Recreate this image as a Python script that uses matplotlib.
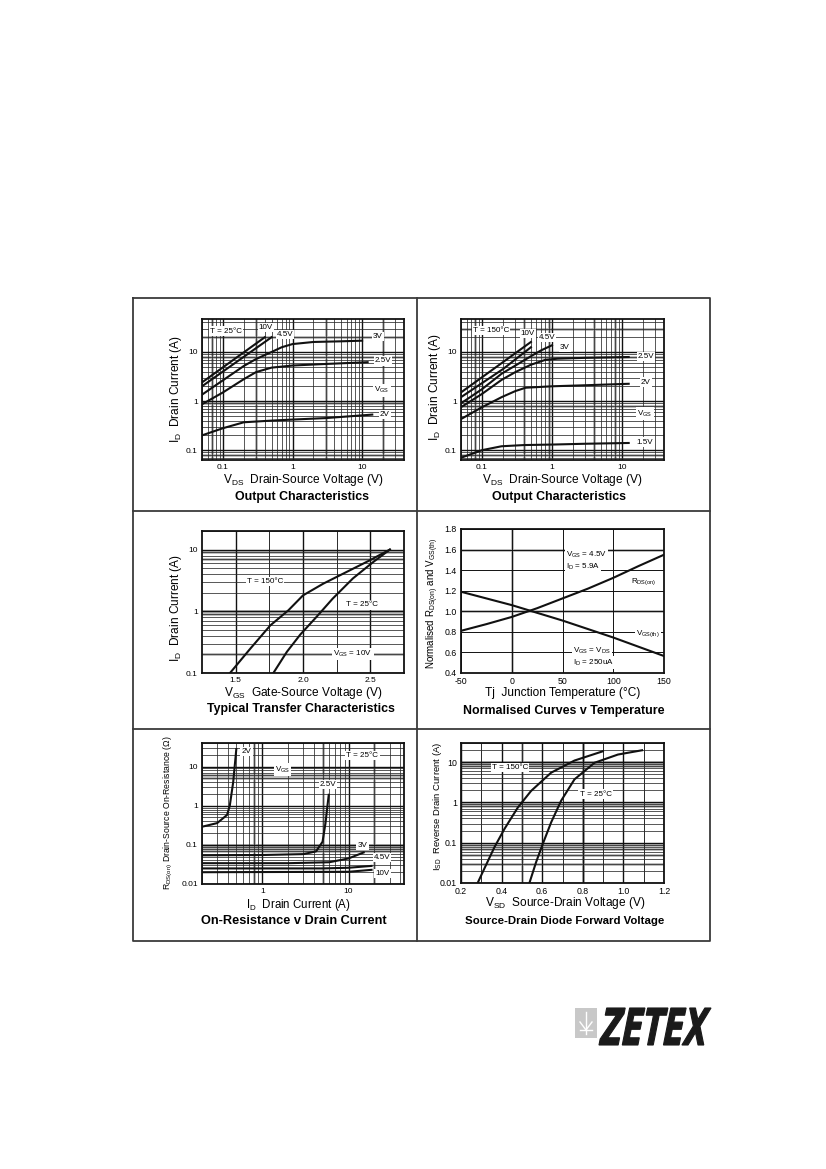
import matplotlib
matplotlib.use("Agg")
import matplotlib.pyplot as plt
from matplotlib.patches import Rectangle, PathPatch
from matplotlib.textpath import TextPath
from matplotlib.font_manager import FontProperties
from matplotlib.transforms import Affine2D
from matplotlib.ticker import LogLocator, NullFormatter, FixedLocator

plt.rcParams['font.family'] = ['Liberation Sans', 'DejaVu Sans']
plt.rcParams['mathtext.default'] = 'regular'

W, H = 826, 1169

# ---- output characteristics, T = 25C ----
oc25_10v_vds = [0.05, 0.4]
oc25_10v_id = [2.4, 20]
oc25_45v_vds = [0.05, 0.5]
oc25_45v_id = [2.0, 20]
oc25_3v_vds = [0.05, 0.1, 0.2, 0.3, 0.5, 0.7, 1, 2, 5, 10]
oc25_3v_id = [1.35, 2.65, 5.2, 7.2, 10, 12.5, 14.5, 16, 16.5, 17]
oc25_25v_vds = [0.05, 0.1, 0.2, 0.3, 0.5, 1, 3, 12]
oc25_25v_id = [0.86, 1.5, 2.8, 3.9, 4.8, 5.3, 5.7, 6.2]
oc25_2v_vds = [0.05, 0.1, 0.2, 0.5, 1, 3, 14]
oc25_2v_id = [0.2, 0.28, 0.37, 0.4, 0.42, 0.45, 0.53]

# ---- output characteristics, T = 150C ----
oc150_10v_vds = [0.05, 0.5]
oc150_10v_id = [1.5, 16]
oc150_45v_vds = [0.05, 0.2, 0.5]
oc150_45v_id = [1.2, 4.5, 12.5]
oc150_3v_vds = [0.05, 0.1, 0.19, 0.3, 0.5, 0.7, 1]
oc150_3v_id = [0.9, 1.75, 3.6, 5.3, 8.2, 10.8, 13.7]
oc150_25v_vds = [0.05, 0.1, 0.19, 0.3, 0.5, 0.8, 1.2, 3, 12.5]
oc150_25v_id = [0.75, 1.4, 2.7, 3.9, 5.5, 6.9, 7.3, 7.6, 7.9]
oc150_2v_vds = [0.05, 0.1, 0.19, 0.3, 0.42, 1, 3, 12.5]
oc150_2v_id = [0.43, 0.75, 1.2, 1.6, 1.87, 2.0, 2.1, 2.25]
oc150_15v_vds = [0.05, 0.1, 0.19, 0.4, 1, 3, 12.5]
oc150_15v_id = [0.07, 0.1, 0.12, 0.127, 0.13, 0.135, 0.14]

# ---- transfer characteristics ----
tr150_vgs = [1.458, 1.61, 1.757, 1.892, 2.0, 2.15, 2.32, 2.49, 2.645]
tr150_id = [0.1, 0.25, 0.59, 1.04, 1.81, 2.8, 4.3, 6.6, 10.0]
tr25_vgs = [1.78, 1.88, 1.98, 2.1, 2.22, 2.37, 2.52, 2.645]
tr25_id = [0.1, 0.22, 0.42, 0.81, 1.6, 3.4, 6.25, 10.0]

# ---- normalised curves v temperature ----
temp_c = [-50, -25, 0, 25, 50, 75, 100, 125, 150]
rdson_norm = [0.81, 0.875, 0.945, 1.03, 1.125, 1.22, 1.325, 1.44, 1.55]
temp_vth = [-50, 0, 50, 100, 150]
vth_norm = [1.19, 1.06, 0.91, 0.745, 0.565]

# ---- on-resistance v drain current ----
ron_2v_id = [0.2, 0.3, 0.39, 0.42, 0.46, 0.5]
ron_2v_r = [0.29, 0.36, 0.58, 1.0, 4.0, 28]
ron_25v_id = [0.2, 1, 3, 4.2, 5.0, 5.4, 5.7, 5.9]
ron_25v_r = [0.054, 0.055, 0.058, 0.068, 0.12, 0.35, 1.0, 1.9]
ron_3v_id = [0.2, 2, 6, 10, 15]
ron_3v_r = [0.034, 0.034, 0.036, 0.045, 0.064]
ron_45v_id = [0.2, 5, 10, 18.5]
ron_45v_r = [0.025, 0.025, 0.026, 0.029]
ron_10v_id = [0.2, 10, 18.5]
ron_10v_r = [0.02, 0.0205, 0.023]

# ---- source-drain diode ----
sd150_vsd = [0.282, 0.315, 0.365, 0.414, 0.48, 0.545, 0.644, 0.759, 0.899]
sd150_isd = [0.01, 0.0228, 0.078, 0.22, 0.75, 1.93, 5.5, 11, 18.7]
sd25_vsd = [0.537, 0.570, 0.603, 0.644, 0.693, 0.759, 0.858, 0.973, 1.092]
sd25_isd = [0.01, 0.033, 0.094, 0.32, 1.1, 3.75, 9.7, 15.5, 19.8]

fig = plt.figure(figsize=(W / 100, H / 100), dpi=100)
fig.patch.set_facecolor('white')

# frame in pixel coordinates
bg = fig.add_axes([0, 0, 1, 1])
bg.set_xlim(0, W)
bg.set_ylim(H, 0)
bg.axis('off')
fc = '#3a3a3a'
bg.plot([133, 710, 710, 133, 133], [298, 298, 941, 941, 298], color=fc, lw=1.3)
bg.plot([417, 417], [298, 941], color=fc, lw=1.3)
bg.plot([133, 710], [511, 511], color=fc, lw=1.3)
bg.plot([133, 710], [729, 729], color=fc, lw=1.3)

# logo
bg.add_patch(Rectangle((575, 1008), 22, 30, color='#c8c8c8', lw=0))
bg.plot([586, 586], [1012, 1034], color='white', lw=1.0)
bg.plot([580, 586, 592], [1022, 1030, 1022], color='white', lw=1.0)
bg.plot([580, 592], [1030, 1030], color='white', lw=1.0)
tp = TextPath((0, 0), "ZETEX", size=1,
              prop=FontProperties(family='DejaVu Sans', weight='bold', style='italic'))
ext = tp.get_extents()
tr = (Affine2D().translate(-ext.x0, -ext.y0).skew_deg(8, 0)
      .scale(112 / (ext.width + ext.height * 0.14), -37 / ext.height)
      .translate(599, 1045))
bg.add_patch(PathPatch(tr.transform_path(tp), facecolor='#1a1a1a',
                       edgecolor='#1a1a1a', lw=0.8))


def pix_axes(x0, y0, x1, y1):
    ax = fig.add_axes([x0 / W, 1 - y1 / H, (x1 - x0) / W, (y1 - y0) / H])
    for s in ax.spines.values():
        s.set_linewidth(1.3)
        s.set_color('#111111')
    ax.tick_params(which='both', length=0, labelsize=6, pad=3)
    return ax


def log_grid(ax, which_axes):
    for a in which_axes:
        axis = ax.xaxis if a == 'x' else ax.yaxis
        axis.set_minor_locator(LogLocator(base=10, subs=range(2, 10)))
        axis.set_minor_formatter(NullFormatter())
    ax.grid(which='major', color='#111111', lw=1.0)
    ax.grid(which='minor', color='#2a2a2a', lw=0.55)
    ax.set_axisbelow(True)


def ptext(x, y, s, size=5.8, ha='center', box=True, **kw):
    bb = dict(facecolor='white', edgecolor='none', pad=0.8) if box else None
    fig.text(x / W, 1 - y / H, s, fontsize=size, ha=ha, va='center', bbox=bb,
             zorder=5, **kw)


def gray_lines(ax, hs=(), vs=()):
    for h in hs:
        ax.axhline(h, color='#a8a8a8', lw=1.8, zorder=0.5)
    for v in vs:
        ax.axvline(v, color='#a8a8a8', lw=1.8, zorder=0.5)


lw_c = 1.5
ck = '#111111'

# ---------- panel 1 ----------
ax1 = pix_axes(202, 319, 404, 460)
ax1.set_xscale('log')
ax1.set_yscale('log')
ax1.set_xlim(0.05, 40)
ax1.set_ylim(0.063, 47)
ax1.set_xticks([0.1, 1, 10], ['0.1', '1', '10'])
ax1.set_yticks([0.1, 1, 10], ['0.1', '1', '10'])
log_grid(ax1, 'xy')
gray_lines(ax1, hs=[20, 8, 0.9, 0.08], vs=[0.07, 0.3, 3, 20])
for xv, yv in [(oc25_10v_vds, oc25_10v_id), (oc25_45v_vds, oc25_45v_id),
               (oc25_3v_vds, oc25_3v_id), (oc25_25v_vds, oc25_25v_id),
               (oc25_2v_vds, oc25_2v_id)]:
    ax1.plot(xv, yv, color=ck, lw=lw_c)
ptext(226, 331, 'T = 25°C')
ptext(266, 327.5, '10V')
ptext(285, 334.3, '4.5V')
ptext(378, 336.3, '3V')
ptext(383, 361, '2.5V')
ptext(382, 390.3, '$V_{GS}$')
ptext(385, 414.3, '2V')
ptext(176, 389, '$I_D$  Drain Current (A)', size=8.6, box=False, rotation=90)
ptext(303, 480, '$V_{DS}$  Drain-Source Voltage (V)', size=8.6, box=False)
ptext(302, 497, 'Output Characteristics', size=8.9, box=False, weight='bold')

# ---------- panel 2 ----------
ax2 = pix_axes(461, 319, 664, 460)
ax2.set_xscale('log')
ax2.set_yscale('log')
ax2.set_xlim(0.05, 40)
ax2.set_ylim(0.063, 47)
ax2.set_xticks([0.1, 1, 10], ['0.1', '1', '10'])
ax2.set_yticks([0.1, 1, 10], ['0.1', '1', '10'])
log_grid(ax2, 'xy')
gray_lines(ax2, hs=[30, 8, 0.8, 0.08], vs=[0.08, 0.4, 0.9, 4, 8])
for xv, yv in [(oc150_10v_vds, oc150_10v_id), (oc150_45v_vds, oc150_45v_id),
               (oc150_3v_vds, oc150_3v_id), (oc150_25v_vds, oc150_25v_id),
               (oc150_2v_vds, oc150_2v_id), (oc150_15v_vds, oc150_15v_id)]:
    ax2.plot(xv, yv, color=ck, lw=lw_c)
ptext(491, 330.3, 'T = 150°C')
ptext(528, 333.7, '10V')
ptext(547, 337.7, '4.5V')
ptext(565, 347.7, '3V')
ptext(646, 356.3, '2.5V')
ptext(646, 382, '2V')
ptext(645, 413.7, '$V_{GS}$')
ptext(645, 442, '1.5V')
ptext(435, 387, '$I_D$  Drain Current (A)', size=8.6, box=False, rotation=90)
ptext(562, 480, '$V_{DS}$  Drain-Source Voltage (V)', size=8.6, box=False)
ptext(559, 497, 'Output Characteristics', size=8.9, box=False, weight='bold')

# ---------- panel 3 ----------
ax3 = pix_axes(202, 531, 404, 673)
ax3.set_yscale('log')
ax3.set_xlim(1.25, 2.75)
ax3.set_ylim(0.1, 20)
ax3.set_xticks([1.5, 2.0, 2.5], ['1.5', '2.0', '2.5'])
ax3.xaxis.set_minor_locator(FixedLocator([1.75, 2.25]))
ax3.set_yticks([0.1, 1, 10], ['0.1', '1', '10'])
log_grid(ax3, 'y')
ax3.grid(which='minor', axis='x', color='#2a2a2a', lw=0.7)
gray_lines(ax3, hs=[9, 7, 1, 0.9, 0.2])
ax3.plot(tr150_vgs, tr150_id, color=ck, lw=lw_c)
ax3.plot(tr25_vgs, tr25_id, color=ck, lw=lw_c)
ptext(265, 581.7, 'T = 150°C')
ptext(362, 605, 'T = 25°C')
ptext(353, 654, '$V_{GS}$ = 10V')
ptext(176, 608, '$I_D$  Drain Current (A)', size=8.6, box=False, rotation=90)
ptext(303, 692.7, '$V_{GS}$  Gate-Source Voltage (V)', size=8.6, box=False)
ptext(301, 709.3, 'Typical Transfer Characteristics', size=8.9, box=False,
      weight='bold')

# ---------- panel 4 ----------
ax4 = pix_axes(461, 529, 664, 673)
ax4.set_xlim(-50, 150)
ax4.set_ylim(0.4, 1.8)
ax4.set_xticks([-50, 0, 50, 100, 150], ['-50', '0', '50', '100', '150'])
ax4.set_yticks([0.4, 0.6, 0.8, 1.0, 1.2, 1.4, 1.6, 1.8],
               ['0.4', '0.6', '0.8', '1.0', '1.2', '1.4', '1.6', '1.8'])
ax4.tick_params(labelsize=6.3)
ax4.grid(color='#111111', lw=0.7)
ax4.set_axisbelow(True)
gray_lines(ax4, hs=[1.0, 1.6], vs=[0])
ax4.plot(temp_c, rdson_norm, color=ck, lw=lw_c)
ax4.plot(temp_vth, vth_norm, color=ck, lw=lw_c)
ptext(566, 555, '$V_{GS}$ = 4.5V', ha='left')
ptext(566, 567.3, '$I_D$ = 5.9A', ha='left')
ptext(631, 581.7, '$R_{DS(on)}$', ha='left')
ptext(636, 633.3, '$V_{GS(th)}$', ha='left')
ptext(573, 650.7, '$V_{GS}$ = $V_{DS}$', ha='left')
ptext(573, 662.7, '$I_D$ = 250uA', ha='left')
ptext(433, 603, 'Normalised $R_{DS(on)}$ and $V_{GS(th)}$', size=7, box=False,
      rotation=90)
ptext(562.5, 693.3, 'Tj  Junction Temperature (°C)', size=8.6, box=False)
ptext(564, 711, 'Normalised Curves v Temperature', size=8.9, box=False,
      weight='bold')

# ---------- panel 5 ----------
ax5 = pix_axes(202, 743, 404, 884)
ax5.set_xscale('log')
ax5.set_yscale('log')
ax5.set_xlim(0.2, 44)
ax5.set_ylim(0.01, 40)
ax5.set_xticks([1, 10], ['1', '10'])
ax5.set_yticks([0.01, 0.1, 1, 10], ['0.01', '0.1', '1', '10'])
log_grid(ax5, 'xy')
gray_lines(ax5, hs=[0.1, 0.09, 0.08, 0.07, 6, 5], vs=[0.8, 5, 20])
for xv, yv in [(ron_2v_id, ron_2v_r), (ron_25v_id, ron_25v_r),
               (ron_3v_id, ron_3v_r), (ron_45v_id, ron_45v_r),
               (ron_10v_id, ron_10v_r)]:
    ax5.plot(xv, yv, color=ck, lw=lw_c)
ptext(241.5, 751.3, '2V', ha='left')
ptext(362.5, 755.3, 'T = 25°C')
ptext(282.5, 769.7, '$V_{GS}$')
ptext(328, 784.7, '2.5V')
ptext(362.5, 845.3, '3V')
ptext(382, 857.3, '4.5V')
ptext(382.5, 873.7, '10V')
ptext(168, 813, '$R_{DS(on)}$ Drain-Source On-Resistance (Ω)', size=6.2,
      box=False, rotation=90)
ptext(298, 905, '$I_D$  Drain Current (A)', size=8.3, box=False)
ptext(294, 921, 'On-Resistance v Drain Current', size=9.2, box=False,
      weight='bold')

# ---------- panel 6 ----------
ax6 = pix_axes(461, 743, 664, 883)
ax6.set_yscale('log')
ax6.set_xlim(0.2, 1.2)
ax6.set_ylim(0.01, 30)
ax6.set_xticks([0.2, 0.4, 0.6, 0.8, 1.0, 1.2],
               ['0.2', '0.4', '0.6', '0.8', '1.0', '1.2'])
ax6.xaxis.set_minor_locator(FixedLocator([0.3, 0.5, 0.7, 0.9, 1.1]))
ax6.set_yticks([0.01, 0.1, 1, 10], ['0.01', '0.1', '1', '10'])
ax6.tick_params(labelsize=6.3)
log_grid(ax6, 'y')
ax6.grid(which='minor', axis='x', color='#2a2a2a', lw=0.7)
gray_lines(ax6, hs=[10, 9, 8, 0.9, 0.8, 0.09, 0.07, 0.05, 0.03], vs=[0.5, 0.8])
ax6.plot(sd150_vsd, sd150_isd, color=ck, lw=lw_c)
ax6.plot(sd25_vsd, sd25_isd, color=ck, lw=lw_c)
ptext(510, 767.3, 'T = 150°C')
ptext(595.5, 794, 'T = 25°C')
ptext(437, 806, '$I_{SD}$  Reverse Drain Current (A)', size=6.8, box=False,
      rotation=90)
ptext(565, 903, '$V_{SD}$  Source-Drain Voltage (V)', size=8.6, box=False)
ptext(565, 920.7, 'Source-Drain Diode Forward Voltage', size=8.2, box=False,
      weight='bold')

fig.savefig('out.png', dpi=100, facecolor='white')
